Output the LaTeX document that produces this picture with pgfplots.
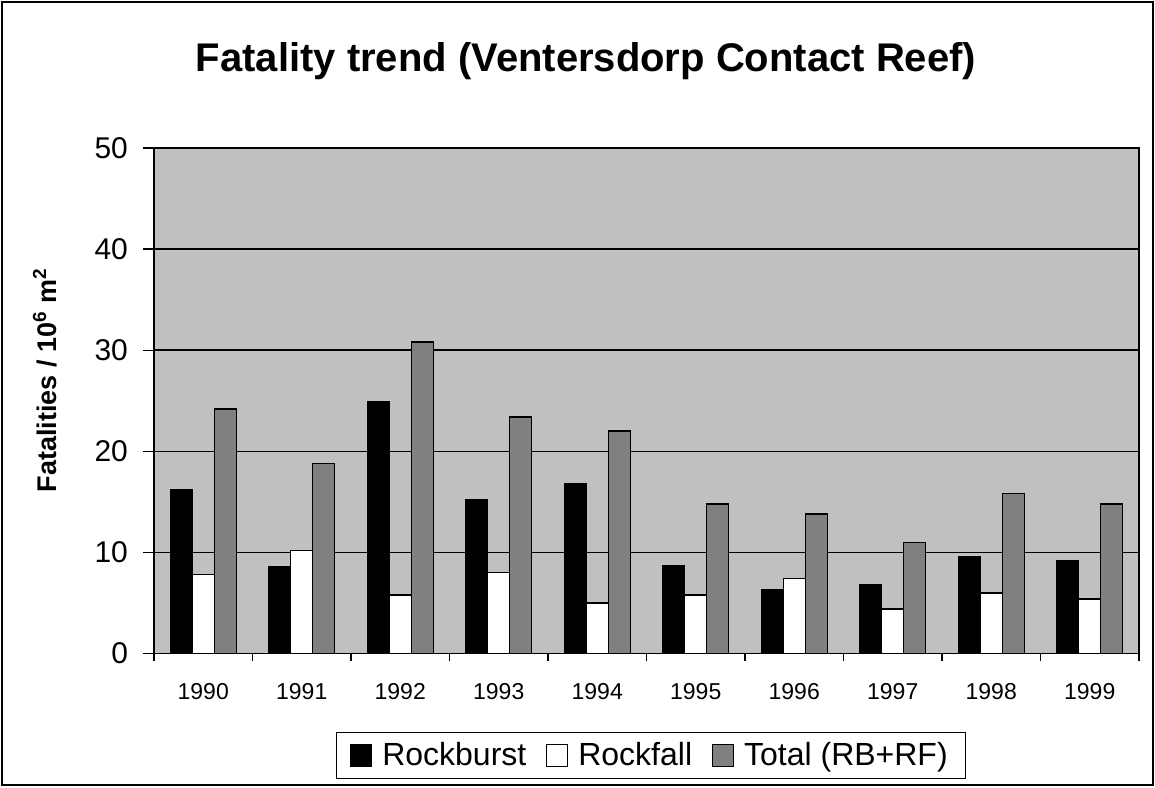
\documentclass[border=0pt]{standalone}
\usepackage{fontspec}
\setmainfont{Liberation Sans}
\usepackage{pgfplots}
\pgfplotsset{compat=1.18}
\definecolor{plotbg}{HTML}{C0C0C0}
\definecolor{totalgray}{HTML}{808080}
\begin{document}
\begin{tikzpicture}[x=0.5pt,y=0.5pt]
\useasboundingbox (0,0) rectangle (1155,787);
\draw[line width=1pt] (2,2) rectangle (1153,785);
\begin{axis}[
  at={(77pt,66.75pt)}, anchor=south west,
  scale only axis, width=492.5pt, height=252.75pt,
  xmin=-0.5, xmax=9.5, ymin=0, ymax=50,
  ybar=0pt, bar width=11pt,
  axis background/.style={fill=plotbg},
  axis line style={black, line width=0.9pt},
  xtick={0,...,9},
  xticklabels={1990,1991,1992,1993,1994,1995,1996,1997,1998,1999},
  minor xtick={-0.5,0.5,...,9.5},
  major x tick style={draw=none},
  minor tick length=3.5pt,
  tick align=outside,
  tick pos=left,
  ytick={0,10,...,50},
  major tick length=5.5pt,
  tick style={black, line width=0.7pt},
  ymajorgrids, grid style={black, line width=0.8pt},
  xticklabel style={font=\fontsize{11.5}{13}\selectfont, yshift=-6pt},
  yticklabel style={font=\fontsize{15}{17}\selectfont, xshift=-4pt},
  /pgf/number format/assume math mode=true,
  legend columns=3,
  legend style={at={(0.5046,-0.2018)}, anchor=center, draw=black, line width=0.7pt,
    font=\fontsize{16}{18}\selectfont, inner xsep=7pt, inner ysep=3pt,
    /tikz/every odd column/.append style={column sep=3pt},
    /tikz/every even column/.append style={column sep=8pt}},
  legend image code/.code={\draw[#1, line width=0.5pt] (0pt,-5.5pt) rectangle (10.5pt,5.5pt);},
]
\addplot[fill=black, draw=black, line width=0.7pt] coordinates {(0,16.2) (1,8.6) (2,24.9) (3,15.2) (4,16.8) (5,8.7) (6,6.3) (7,6.8) (8,9.6) (9,9.2)};
\addplot[fill=white, draw=black, line width=0.7pt] coordinates {(0,7.8) (1,10.2) (2,5.8) (3,8.0) (4,5.0) (5,5.8) (6,7.4) (7,4.4) (8,6.0) (9,5.4)};
\addplot[fill=totalgray, draw=black, line width=0.7pt] coordinates {(0,24.2) (1,18.8) (2,30.8) (3,23.4) (4,22.0) (5,14.8) (6,13.8) (7,11.0) (8,15.8) (9,14.8)};
\legend{Rockburst,Rockfall,Total (RB+RF)}
\end{axis}
\node[font=\bfseries\fontsize{20}{24}\selectfont] at (586,726) {Fatality trend (Ventersdorp Contact Reef)};
\node[rotate=90, font=\bfseries\fontsize{13.5}{16}\selectfont] at (45,407) {Fatalities / 10\textsuperscript{6} m\textsuperscript{2}};
\end{tikzpicture}
\end{document}
